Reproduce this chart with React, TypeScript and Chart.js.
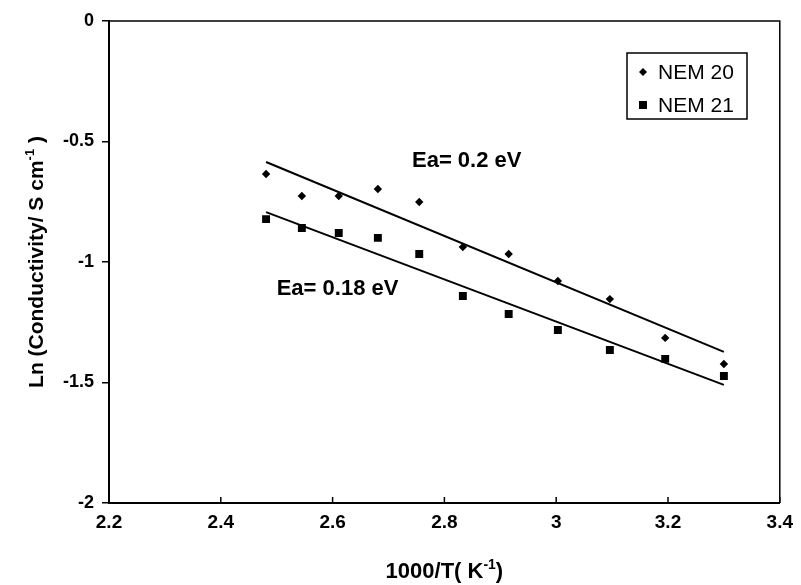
import React, { useEffect, useRef } from "react";
import { Chart, registerables } from "chart.js";

Chart.register(...registerables);

// ---- data ----
const nem20X = [2.481, 2.545, 2.611, 2.681, 2.755, 2.833, 2.915, 3.003, 3.096, 3.195, 3.3];
const nem20Y = [-0.635, -0.726, -0.726, -0.697, -0.751, -0.938, -0.967, -1.079, -1.154, -1.315, -1.423];
const nem21X = [2.481, 2.545, 2.611, 2.681, 2.755, 2.833, 2.915, 3.003, 3.096, 3.195, 3.3];
const nem21Y = [-0.822, -0.859, -0.88, -0.9, -0.967, -1.141, -1.216, -1.282, -1.365, -1.402, -1.473];
const fit20X = [2.481, 3.3];
const fit20Y = [-0.585, -1.373];
const fit21X = [2.481, 3.3];
const fit21Y = [-0.793, -1.51];
const seriesNames = ["NEM 20", "NEM 21"];
const annotations = [
  { text: "Ea= 0.2 eV", x: 2.742, y: -0.581 },
  { text: "Ea= 0.18 eV", x: 2.5, y: -1.112 },
];
const xTitle = [{ t: "1000/T( K" }, { t: "-1", sup: true }, { t: ")" }];
const yTitle = [{ t: "Ln (Conductivity/ S cm" }, { t: "-1", sup: true }, { t: " )" }];

const SANS = "'Liberation Sans', Arial, sans-serif";

type Part = { t: string; sup?: boolean };

const fmt = (v: number) => String(Number(v.toFixed(2)));

function drawRich(ctx: CanvasRenderingContext2D, parts: Part[], cx: number, cy: number, size: number, family: string, weight: string) {
  const main = `${weight} ${size}px ${family}`;
  const sub = `${weight} ${Math.round(size * 0.62)}px ${family}`;
  let total = 0;
  const widths = parts.map((p) => {
    ctx.font = p.sup ? sub : main;
    const w = ctx.measureText(p.t).width;
    total += w;
    return w;
  });
  let x = cx - total / 2;
  ctx.textBaseline = "alphabetic";
  ctx.textAlign = "left";
  const base = cy + size * 0.36;
  parts.forEach((p, i) => {
    ctx.font = p.sup ? sub : main;
    ctx.fillText(p.t, x, p.sup ? base - size * 0.42 : base);
    x += widths[i];
  });
}

const decorPlugin = {
  id: "decor",
  afterDraw(chart: any) {
    const ctx: CanvasRenderingContext2D = chart.ctx;
    const { left, right, top, bottom } = chart.chartArea;
    const xs = chart.scales.x;
    const ys = chart.scales.y;
    ctx.save();
    ctx.strokeStyle = "#000";
    ctx.fillStyle = "#000";
    // frame top/right
    ctx.lineWidth = 1.5;
    ctx.beginPath();
    ctx.moveTo(left, top);
    ctx.lineTo(right, top);
    ctx.lineTo(right, bottom);
    ctx.stroke();
    // inside x ticks
    xs.ticks.forEach((t: any) => {
      const px = xs.getPixelForValue(t.value);
      ctx.beginPath();
      ctx.moveTo(px, bottom);
      ctx.lineTo(px, bottom - 6);
      ctx.stroke();
    });
    // annotations
    annotations.forEach((a) => {
      ctx.font = `bold 22px ${SANS}`;
      ctx.textBaseline = "middle";
      ctx.textAlign = "left";
      ctx.fillText(a.text, xs.getPixelForValue(a.x), ys.getPixelForValue(a.y));
    });
    // axis titles
    drawRich(ctx, xTitle, (left + right) / 2, 570, 22, SANS, "bold");
    ctx.save();
    ctx.translate(35, (top + bottom) / 2);
    ctx.rotate(-Math.PI / 2);
    drawRich(ctx, yTitle, 0, 0, 21, SANS, "bold");
    ctx.restore();
    // legend
    const bx = 627, by = 53, bw = 120, bh = 66;
    ctx.lineWidth = 1.5;
    ctx.strokeRect(bx, by, bw, bh);
    ctx.font = `21px ${SANS}`;
    ctx.textBaseline = "middle";
    ctx.textAlign = "left";
    const rows = [by + 19, by + 52];
    ctx.beginPath();
    const dx = 643, dy = rows[0], r = 4;
    ctx.moveTo(dx, dy - r);
    ctx.lineTo(dx + r, dy);
    ctx.lineTo(dx, dy + r);
    ctx.lineTo(dx - r, dy);
    ctx.closePath();
    ctx.fill();
    ctx.fillRect(643 - 4, rows[1] - 4, 8, 8);
    ctx.fillText(seriesNames[0], 658, rows[0] + 1);
    ctx.fillText(seriesNames[1], 658, rows[1] + 1);
    ctx.restore();
  },
};

export default function App() {
  const ref = useRef<HTMLCanvasElement | null>(null);
  useEffect(() => {
    document.body.style.margin = "0";
    const canvas = ref.current!;
    const toPts = (xs: number[], ys: number[]) => xs.map((x, i) => ({ x, y: ys[i] }));
    const chart = new Chart(canvas, {
      type: "scatter",
      data: {
        datasets: [
          {
            label: seriesNames[0],
            data: toPts(nem20X, nem20Y),
            pointStyle: "rectRot",
            pointRadius: 4.2,
            backgroundColor: "#000",
            borderColor: "#000",
            borderWidth: 0,
          },
          {
            label: seriesNames[1],
            data: toPts(nem21X, nem21Y),
            pointStyle: "rect",
            pointRadius: 5.6,
            backgroundColor: "#000",
            borderColor: "#000",
            borderWidth: 0,
          },
          {
            label: "fit 20",
            data: toPts(fit20X, fit20Y),
            showLine: true,
            pointRadius: 0,
            borderColor: "#000",
            borderWidth: 2,
          },
          {
            label: "fit 21",
            data: toPts(fit21X, fit21Y),
            showLine: true,
            pointRadius: 0,
            borderColor: "#000",
            borderWidth: 2,
          },
        ],
      },
      options: {
        animation: false,
        responsive: false,
        devicePixelRatio: 1,
        layout: { padding: { left: 0, top: 21, right: 19, bottom: 0 } },
        plugins: { legend: { display: false }, tooltip: { enabled: false }, title: { display: false } },
        scales: {
          x: {
            type: "linear",
            min: 2.2,
            max: 3.4,
            ticks: {
              stepSize: 0.2,
              color: "#000",
              padding: 8,
              font: { family: SANS, size: 19, weight: "bold" },
              maxRotation: 0,
              callback: (v: any) => fmt(Number(v)),
            },
            grid: { drawOnChartArea: false, drawTicks: false },
            border: { display: true, color: "#000", width: 2 },
            afterFit: (s: any) => {
              s.height = 82;
            },
          },
          y: {
            type: "linear",
            min: -2,
            max: 0,
            ticks: {
              stepSize: 0.5,
              color: "#000",
              padding: 8,
              font: { family: SANS, size: 18, weight: "bold" },
              callback: (v: any) => fmt(Number(v)),
            },
            grid: { drawOnChartArea: false, drawTicks: true, tickLength: 7, color: "#000", lineWidth: 1.5 },
            border: { display: true, color: "#000", width: 2 },
            afterFit: (s: any) => {
              s.width = 109;
            },
          },
        },
      },
      plugins: [decorPlugin],
    } as any);
    return () => chart.destroy();
  }, []);
  return (
    <div style={{ width: 801, height: 585 }}>
      <canvas ref={ref} width={801} height={585} style={{ display: "block" }} />
    </div>
  );
}
